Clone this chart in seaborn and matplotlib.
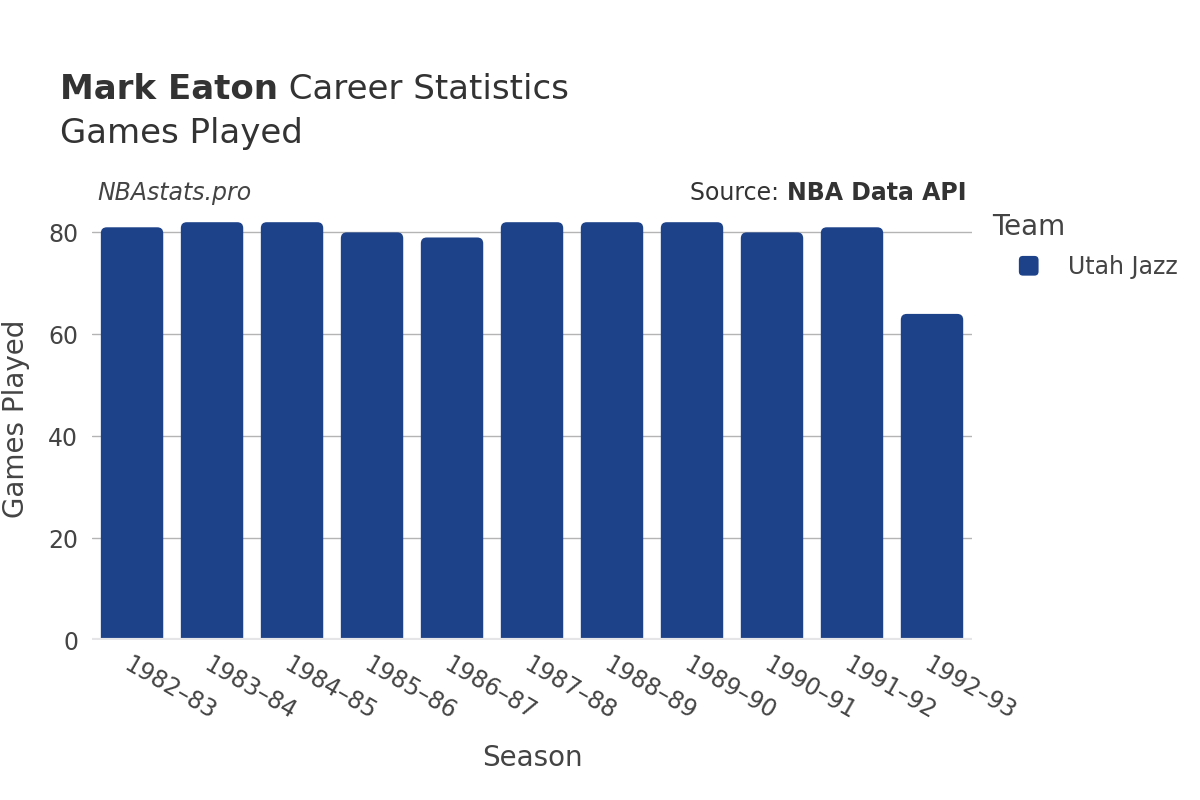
import pandas as pd
import matplotlib.pyplot as plt
import seaborn as sns
from matplotlib.patches import FancyBboxPatch, Rectangle
from matplotlib.legend_handler import HandlerPatch

sns.set_theme(style='white')
plt.rcParams['font.family'] = ['DejaVu Sans']

seasons = ['1982–83', '1983–84', '1984–85', '1985–86', '1986–87', '1987–88',
           '1988–89', '1989–90', '1990–91', '1991–92', '1992–93']
games = [81, 82, 82, 80, 79, 82, 82, 82, 80, 81, 64]
teams = ['Utah Jazz'] * len(seasons)

df = pd.DataFrame({'Season': seasons, 'Games Played': games, 'Team': teams})

jazz = '#1D428A'
txt = '#444444'

fig = plt.figure(figsize=(12, 8), dpi=100)
ax = fig.add_axes([0.0767, 0.2, 0.7333, 0.535])

sns.barplot(data=df, x='Season', y='Games Played', hue='Team',
            palette={'Utah Jazz': jazz}, width=0.78, saturation=1, ax=ax)

ax.set_ylim(0, 84)
ax.set_xlim(-0.5, len(seasons) - 0.5)

# rounded tops: swap the drawn rectangles for rounded boxes
bars = [p for p in ax.patches if p.get_height() > 0]
for p in bars:
    x, w, h = p.get_x(), p.get_width(), p.get_height()
    r = FancyBboxPatch((x, -3), w, h + 3,
                       boxstyle='round,pad=0,rounding_size=0.075',
                       mutation_aspect=15.7, fc=jazz, ec='none',
                       clip_on=True, zorder=2)
    ax.add_patch(r)
    p.set_visible(False)

for s in ax.spines.values():
    s.set_visible(False)
ax.set_yticks([0, 20, 40, 60, 80])
ax.yaxis.grid(True, color='#b4b4b4', lw=1)
ax.set_axisbelow(True)
ax.axhline(0, color='#e5e5e8', lw=3, zorder=3)
ax.tick_params(axis='y', length=0, pad=10, labelsize=17, labelcolor=txt)
ax.tick_params(axis='x', length=0, pad=9, labelsize=17, labelcolor=txt)
for lab in ax.get_xticklabels():
    lab.set_rotation(-30)
    lab.set_ha('left')
    lab.set_rotation_mode('anchor')

ax.set_xlabel('Season', fontsize=20, color=txt, labelpad=14)
ax.set_ylabel('Games Played', fontsize=20, color=txt)
ax.yaxis.set_label_coords(-0.07, 0.516)


def rounded_key(legend, orig_handle, xdescent, ydescent, width, height, fontsize):
    side = height
    return FancyBboxPatch((-xdescent + width - side, -ydescent), side, side,
                          boxstyle='round,pad=0,rounding_size=3.5')


sns.move_legend(ax, 'upper left', bbox_to_anchor=(1.004, 1.037), frameon=False,
                title='Team', fontsize=17, title_fontsize=20,
                handlelength=2.0, handleheight=1.0, handletextpad=1.2,
                borderpad=0.2, labelspacing=0.6,
                handler_map={Rectangle: HandlerPatch(patch_func=rounded_key)})
leg = ax.get_legend()
for t in leg.get_texts():
    t.set_color(txt)
leg.get_title().set_color(txt)
leg._legend_box.align = 'left'

t1 = fig.text(0.05, 0.876, 'Mark Eaton', fontsize=24.5, fontweight='bold',
              color='#333333')
ax.annotate(' Career Statistics', xy=(1, 0), xycoords=t1, fontsize=24.5,
            color='#333333', va='bottom', ha='left')
fig.text(0.05, 0.821, 'Games Played', fontsize=24.5, color='#333333')

fig.text(0.081, 0.75, 'NBAstats.pro', fontsize=17, style='italic', color=txt)
t2 = fig.text(0.805, 0.75, 'NBA Data API', fontsize=17, fontweight='bold',
              color='#333333', ha='right')
ax.annotate('Source: ', xy=(0, 0), xycoords=t2, fontsize=17, color='#333333',
            va='bottom', ha='right')

plt.savefig('out.png', dpi=100)
